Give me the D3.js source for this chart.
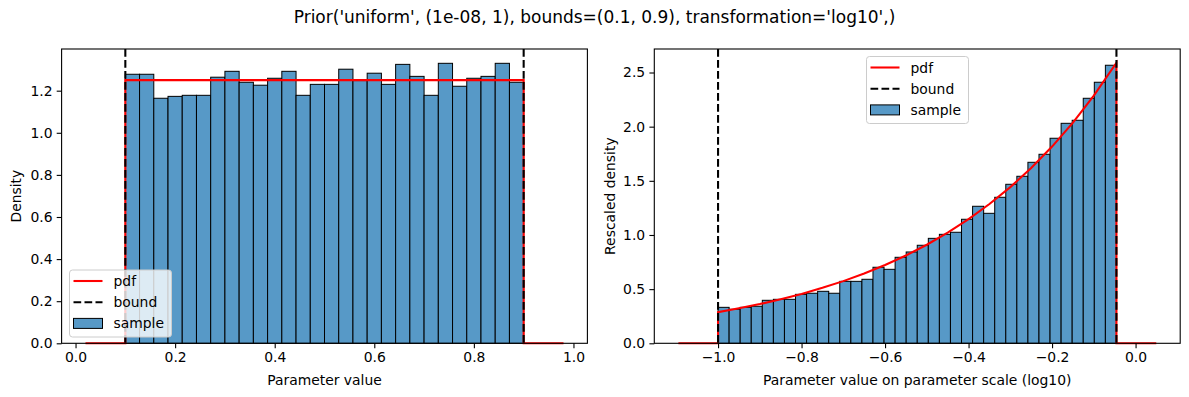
<!DOCTYPE html>
<html>
<head>
<meta charset="utf-8">
<script src="https://cdn.jsdelivr.net/npm/d3@7"></script>
<style>
  body { margin: 0; background: #fff; }
  svg { font-family: "DejaVu Sans", sans-serif; }
</style>
</head>
<body>
<svg id="chart" width="1189" height="397"></svg>
<script>
// ---- data ----
var titleText = "Prior('uniform', (1e-08, 1), bounds=(0.1, 0.9), transformation='log10',)";

// left panel: histogram on linear scale, 28 bins between the bounds
var leftBounds = [0.1, 0.9];
var leftDensity = [1.278, 1.278, 1.164, 1.173, 1.178, 1.178, 1.264, 1.292, 1.240, 1.226,
                   1.259, 1.292, 1.178, 1.230, 1.230, 1.302, 1.248, 1.283, 1.230, 1.325,
                   1.268, 1.178, 1.330, 1.221, 1.259, 1.268, 1.330, 1.240];
var leftPdfX = [0.02, 0.1, 0.1, 0.9, 0.9, 0.98];
var leftPdfY = [0, 0, 1.25, 1.25, 0, 0];
var leftXTicks = [0, 0.2, 0.4, 0.6, 0.8, 1.0];
var leftYTicks = [0, 0.2, 0.4, 0.6, 0.8, 1.0, 1.2];

// right panel: histogram on log10 scale, 36 bins between the bounds
var rightBounds = [-1.0, -0.0458];
var rightDensity = [0.332, 0.314, 0.332, 0.342, 0.397, 0.406, 0.406, 0.452, 0.462, 0.480,
                    0.462, 0.572, 0.572, 0.591, 0.702, 0.683, 0.794, 0.843, 0.905, 0.969,
                    1.006, 1.025, 1.145, 1.265, 1.200, 1.348, 1.468, 1.542, 1.671, 1.745,
                    1.893, 2.031, 2.059, 2.262, 2.410, 2.567];
var rightPdfX = [-1.095, -1.0, -1.0, -0.95, -0.9, -0.85, -0.8, -0.75, -0.7, -0.65, -0.6,
                 -0.55, -0.5, -0.45, -0.4, -0.35, -0.3, -0.25, -0.2, -0.15, -0.1, -0.0458,
                 -0.0458, 0.0496];
var rightPdfY = [0, 0, 0.288, 0.323, 0.362, 0.407, 0.456, 0.512, 0.574, 0.644, 0.723,
                 0.811, 0.910, 1.021, 1.146, 1.286, 1.442, 1.618, 1.816, 2.037, 2.286, 2.590,
                 0, 0];
var rightXTicks = [-1.0, -0.8, -0.6, -0.4, -0.2, 0.0];
var rightYTicks = [0, 0.5, 1.0, 1.5, 2.0, 2.5];

var legendLabels = ["pdf", "bound", "sample"];

// ---- styling ----
var barFill = "#5799c7";
var fontSize = 13.9;
var lineW = 2.08, dash = "7.7,3.3";
var svg = d3.select("#chart");

svg.append("text")
    .attr("x", 594.5)
    .attr("y", 23)
    .attr("text-anchor", "middle")
    .style("font-size", "17px")
    .text(titleText);

function drawPanel(opt) {
    var x = d3.scaleLinear().domain(opt.xDomain).range([opt.left, opt.right]);
    var y = d3.scaleLinear().domain(opt.yDomain).range([opt.bottom, opt.top]);
    var g = svg.append("g");

    // bars
    var n = opt.density.length;
    var w = (opt.bounds[1] - opt.bounds[0]) / n;
    g.selectAll("rect.bar")
        .data(opt.density)
      .enter().append("rect")
        .attr("class", "bar")
        .attr("x", function(d, i) { return x(opt.bounds[0] + i * w); })
        .attr("y", function(d) { return y(d); })
        .attr("width", function(d, i) { return x(opt.bounds[0] + (i + 1) * w) - x(opt.bounds[0] + i * w); })
        .attr("height", function(d) { return y(0) - y(d); })
        .attr("fill", barFill)
        .attr("stroke", "#000")
        .attr("stroke-width", 1);

    // pdf
    var pts = opt.pdfX.map(function(v, i) { return [v, opt.pdfY[i]]; });
    g.append("path")
        .datum(pts)
        .attr("fill", "none")
        .attr("stroke", "#ff0000")
        .attr("stroke-width", lineW)
        .attr("d", d3.line().x(function(d) { return x(d[0]); }).y(function(d) { return y(d[1]); }));

    // bounds
    g.selectAll("line.bound")
        .data(opt.bounds)
      .enter().append("line")
        .attr("class", "bound")
        .attr("x1", function(d) { return x(d); })
        .attr("x2", function(d) { return x(d); })
        .attr("y1", opt.top)
        .attr("y2", opt.bottom)
        .attr("stroke", "#000")
        .attr("stroke-width", lineW)
        .attr("stroke-dasharray", dash);

    // axes
    var xAxis = d3.axisBottom(x).tickValues(opt.xTicks).tickSize(4.9).tickPadding(4.2)
        .tickFormat(function(d) { return d3.format(".1f")(d).replace("-", "\u2212"); });
    var yAxis = d3.axisLeft(y).tickValues(opt.yTicks).tickSize(4.9).tickPadding(4.2)
        .tickFormat(d3.format(".1f"));

    var gx = g.append("g")
        .attr("transform", "translate(0," + opt.bottom + ")")
        .call(xAxis);
    var gy = g.append("g")
        .attr("transform", "translate(" + opt.left + ",0)")
        .call(yAxis);
    [gx, gy].forEach(function(a) {
        a.select(".domain").remove();
        a.selectAll("line").attr("stroke", "#000").attr("stroke-width", 1.1);
        a.selectAll("text").style("font-size", fontSize + "px")
            .style("font-family", "DejaVu Sans").attr("fill", "#000");
    });

    // frame
    g.append("rect")
        .attr("x", opt.left)
        .attr("y", opt.top)
        .attr("width", opt.right - opt.left)
        .attr("height", opt.bottom - opt.top)
        .attr("fill", "none")
        .attr("stroke", "#000")
        .attr("stroke-width", 1.1);

    // axis labels
    g.append("text")
        .attr("x", (opt.left + opt.right) / 2)
        .attr("y", 385)
        .attr("text-anchor", "middle")
        .style("font-size", fontSize + "px")
        .text(opt.xLabel);
    g.append("text")
        .attr("transform", "translate(" + opt.yLabelX + "," + (opt.top + opt.bottom) / 2 + ") rotate(-90)")
        .attr("text-anchor", "middle")
        .style("font-size", fontSize + "px")
        .text(opt.yLabel);

    // legend
    var lg = g.append("g").attr("transform", "translate(" + opt.legend[0] + "," + opt.legend[1] + ")");
    lg.append("rect")
        .attr("width", 102)
        .attr("height", 67)
        .attr("rx", 3)
        .attr("fill", "#fff")
        .attr("fill-opacity", 0.8)
        .attr("stroke", "#cccccc")
        .attr("stroke-width", 1);
    legendLabels.forEach(function(lab, i) {
        var cy = 11 + i * 21.2;
        if (i === 0) {
            lg.append("line").attr("x1", 4).attr("x2", 33).attr("y1", cy).attr("y2", cy)
                .attr("stroke", "#ff0000").attr("stroke-width", lineW);
        } else if (i === 1) {
            lg.append("line").attr("x1", 4).attr("x2", 33).attr("y1", cy).attr("y2", cy)
                .attr("stroke", "#000").attr("stroke-width", lineW).attr("stroke-dasharray", dash);
        } else {
            lg.append("rect").attr("x", 4).attr("y", cy - 5).attr("width", 29).attr("height", 10)
                .attr("fill", barFill).attr("stroke", "#000").attr("stroke-width", 1);
        }
        lg.append("text")
            .attr("x", 44)
            .attr("y", cy + 5)
            .style("font-size", fontSize + "px")
            .text(lab);
    });
}

drawPanel({
    left: 61.6, right: 587.4, top: 49, bottom: 343.3,
    xDomain: [-0.028, 1.028], yDomain: [0, 1.398],
    bounds: leftBounds, density: leftDensity, pdfX: leftPdfX, pdfY: leftPdfY,
    xTicks: leftXTicks, yTicks: leftYTicks,
    xLabel: "Parameter value", yLabel: "Density", yLabelX: 20.5,
    legend: [69.5, 270]
});

drawPanel({
    left: 654.3, right: 1180.2, top: 49, bottom: 343.3,
    xDomain: [-1.1527, 0.1069], yDomain: [0, 2.717],
    bounds: rightBounds, density: rightDensity, pdfX: rightPdfX, pdfY: rightPdfY,
    xTicks: rightXTicks, yTicks: rightYTicks,
    xLabel: "Parameter value on parameter scale (log10)", yLabel: "Rescaled density", yLabelX: 614.5,
    legend: [866.5, 56.5]
});
</script>
</body>
</html>
